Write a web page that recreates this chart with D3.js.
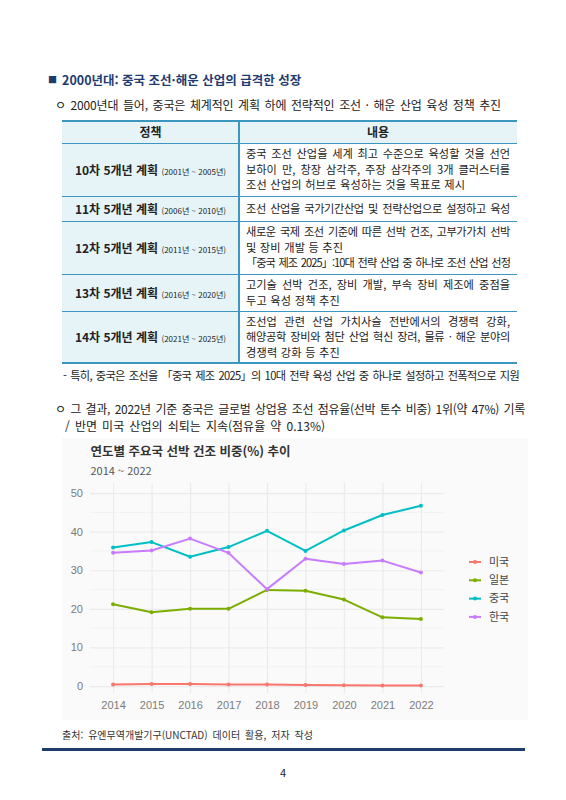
<!DOCTYPE html>
<html lang="ko">
<head>
<meta charset="utf-8">
<title>연도별 주요국 선박 건조 비중</title>
<script src="https://d3js.org/d3.v7.min.js"></script>
<style>
  body{
    margin:0;
    background:#fff;
    font-family:"Noto Sans CJK KR","Noto Sans",sans-serif;
    color:#222;
  }
  #page{position:relative;width:566px;height:800px;overflow:hidden;}
  .ln{position:absolute;white-space:nowrap;}
  .cell{position:absolute;box-sizing:border-box;}
</style>
</head>
<body>
<div id="page"></div>
<script>
// ---- chart data ----
let years = [2014, 2015, 2016, 2017, 2018, 2019, 2020, 2021, 2022]
let countries = ["미국", "일본", "중국", "한국"]
let usShare    = [0.4, 0.5, 0.5, 0.4, 0.4, 0.25, 0.2, 0.15, 0.13]
let japanShare = [21.2, 19.1, 20.0, 20.0, 24.9, 24.7, 22.4, 17.8, 17.4]
let chinaShare = [35.9, 37.3, 33.5, 36.0, 40.2, 35.0, 40.3, 44.3, 46.7]
let koreaShare = [34.5, 35.1, 38.2, 34.5, 25.1, 33.0, 31.6, 32.5, 29.4]
let yTicks = [0, 10, 20, 30, 40, 50]
let yMinor = [5, 15, 25, 35, 45]

// ---- table text ----
let policies = ["10차 5개년 계획", "11차 5개년 계획", "12차 5개년 계획", "13차 5개년 계획", "14차 5개년 계획"]
let periods = ["(2001년 ~ 2005년)", "(2006년 ~ 2010년)", "(2011년 ~ 2015년)", "(2016년 ~ 2020년)", "(2021년 ~ 2025년)"]
let contents = [
  [["중국 조선 산업을 세계 최고 수준으로 육성할 것을 선언", 1], ["보하이 만, 창장 삼각주, 주장 삼각주의 3개 클러스터를", 1], ["조선 산업의 허브로 육성하는 것을 목표로 제시", 0]],
  [["조선 산업을 국가기간산업 및 전략산업으로 설정하고 육성", 1]],
  [["새로운 국제 조선 기준에 따른 선박 건조, 고부가가치 선박", 1], ["및 장비 개발 등 추진", 0], ["「중국 제조 2025」:10대 전략 산업 중 하나로 조선 산업 선정", 1]],
  [["고기술 선박 건조, 장비 개발, 부속 장비 제조에 중점을", 1], ["두고 육성 정책 추진", 0]],
  [["조선업 관련 산업 가치사슬 전반에서의 경쟁력 강화,", 1], ["해양공학 장비와 첨단 산업 혁신 장려, 물류 · 해운 분야의", 1], ["경쟁력 강화 등 추진", 0]]
]

let page = d3.select("#page")

// one line of text; if w is given, spread it to exactly that width
let line = (x, cy, text, opts = {}) => {
  let lh = opts.lh || 16
  let d = page.append("div")
    .attr("class", "ln")
    .style("left", x + "px")
    .style("top", (cy - lh / 2) + "px")
    .style("line-height", lh + "px")
    .style("height", lh + "px")
    .style("font-size", (opts.size || 12) + "px")
    .style("font-weight", opts.bold ? "bold" : "normal")
    .style("color", opts.color || "#222")
    .text(text)
  if (opts.ls) d.style("letter-spacing", opts.ls + "px")
  if (opts.center) d.style("width", opts.center + "px").style("text-align", "center")
  if (opts.w) {
    let natural = d.node().getBoundingClientRect().width
    let spaces = (text.match(/ /g) || []).length
    let extra = opts.w - natural
    let ws = spaces ? extra / spaces : 0
    if (ws < 1.5) {
      // too tight: keep a small word gap, squeeze the letters
      let ls = (extra - 1.5 * spaces) / text.length + (opts.ls || 0)
      d.style("letter-spacing", ls + "px")
      ws = 1.5
    }
    d.style("word-spacing", ws + "px")
  }
  return d
}

// ---- heading and lead text ----
line(48, 80, "■", {size: 9, color: "#1f3b70"})
line(62, 80, "2000년대: 중국 조선·해운 산업의 급격한 성장", {size: 12.5, bold: true, color: "#1f3b70"})
line(55, 105, "ㅇ 2000년대 들어, 중국은 체계적인 계획 하에 전략적인 조선 · 해운 산업 육성 정책 추진", {size: 12, w: 446})

// ---- table ----
let tLeft = 62, tRight = 517, tDiv = 239
let rowEdges = [121, 143, 196, 221, 274, 311, 363]
let blue = "#3b97bf"

page.append("div").attr("class", "cell")
  .style("left", tLeft + "px").style("top", rowEdges[0] + "px")
  .style("width", (tRight - tLeft) + "px").style("height", (rowEdges[1] - rowEdges[0]) + "px")
  .style("background", "#e6f4f8")
page.append("div").attr("class", "cell")
  .style("left", tLeft + "px").style("top", rowEdges[1] + "px")
  .style("width", (tDiv - tLeft) + "px").style("height", (rowEdges[6] - rowEdges[1]) + "px")
  .style("background", "#e6f4f8")

rowEdges.forEach((y, i) => {
  let thick = (i === 0 || i === rowEdges.length - 1) ? 2 : 1
  page.append("div").attr("class", "cell")
    .style("left", tLeft + "px").style("top", (y - thick / 2) + "px")
    .style("width", (tRight - tLeft) + "px").style("height", thick + "px")
    .style("background", blue)
})
page.append("div").attr("class", "cell")
  .style("left", (tDiv - 1) + "px").style("top", rowEdges[0] + "px")
  .style("width", "2px").style("height", (rowEdges[6] - rowEdges[0]) + "px")
  .style("background", blue)

line(tLeft, 132, "정책", {size: 12, bold: true, center: tDiv - tLeft})
line(tDiv, 132, "내용", {size: 12, bold: true, center: tRight - tDiv})

policies.forEach((p, i) => {
  let cy = (rowEdges[i + 1] + rowEdges[i + 2]) / 2
  let d = line(tLeft, cy, "", {size: 12, bold: true, center: tDiv - tLeft})
  d.append("span").text(p + " ")
  d.append("span").style("font-size", "8px").style("font-weight", "normal").text(periods[i])

  let rows = contents[i]
  let lh = 15.6
  let top = cy - (rows.length - 1) * lh / 2
  rows.forEach((r, j) => {
    line(246, top + j * lh, r[0], {size: 11.2, w: r[1] ? 264 : null, lh: lh, ls: r[1] ? 0 : 0.2})
  })
})

// ---- body text after table ----
line(63, 375, "- 특히, 중국은 조선을 「중국 제조 2025」의 10대 전략 육성 산업 중 하나로 설정하고 전폭적으로 지원", {size: 11.2, w: 456})
line(55, 409, "ㅇ 그 결과, 2022년 기준 중국은 글로벌 상업용 조선 점유율(선박 톤수 비중) 1위(약 47%) 기록", {size: 12, w: 470})
line(65, 426, "/ 반면 미국 산업의 쇠퇴는 지속(점유율 약 0.13%)", {size: 12, w: 260})

// ---- chart ----
let cw = 466, ch = 282
let svg = page.append("svg")
  .style("position", "absolute")
  .style("left", "62px").style("top", "438px")
  .attr("width", cw).attr("height", ch)
  .style("font-family", "'Noto Sans CJK KR','Noto Sans',sans-serif")

svg.append("rect").attr("width", cw).attr("height", ch).attr("fill", "#fafafa")

let px0 = 28, px1 = 382, py0 = 45, py1 = 255
let x = d3.scaleLinear().domain([2013.4, 2022.6]).range([px0, px1])
let y = d3.scaleLinear().domain([-1.8, 52.6]).range([py1, py0])

svg.append("g").selectAll("line").data(yMinor).join("line")
  .attr("x1", px0).attr("x2", px1)
  .attr("y1", d => y(d)).attr("y2", d => y(d))
  .attr("stroke", "#f0f0f0").attr("stroke-width", 0.8)

let yAxis = svg.append("g")
  .attr("transform", `translate(${px0},0)`)
  .call(d3.axisLeft(y).tickValues(yTicks).tickSize(-(px1 - px0)).tickPadding(7))
yAxis.select(".domain").remove()
yAxis.selectAll("line").attr("stroke", "#ebebeb").attr("stroke-width", 1.2)
yAxis.selectAll("text").attr("fill", "#7a7a7a").attr("font-size", 11)

let xAxis = svg.append("g")
  .attr("transform", `translate(0,${py1})`)
  .call(d3.axisBottom(x).tickValues(years).tickFormat(d3.format("d")).tickSize(-(py1 - py0)).tickPadding(8))
xAxis.select(".domain").remove()
xAxis.selectAll("line").attr("stroke", "#ebebeb").attr("stroke-width", 1.2)
xAxis.selectAll("text").attr("fill", "#7a7a7a").attr("font-size", 11)

let series = [
  {name: countries[0], values: usShare, color: "#f8766d"},
  {name: countries[1], values: japanShare, color: "#7cae00"},
  {name: countries[2], values: chinaShare, color: "#00bfc4"},
  {name: countries[3], values: koreaShare, color: "#c77cff"}
]

let lineGen = d3.line().x((d, i) => x(years[i])).y(d => y(d))

series.forEach(s => {
  svg.append("path")
    .attr("d", lineGen(s.values))
    .attr("fill", "none")
    .attr("stroke", s.color)
    .attr("stroke-width", 2)
    .attr("stroke-linejoin", "round")
  svg.append("g").selectAll("circle").data(s.values).join("circle")
    .attr("cx", (d, i) => x(years[i]))
    .attr("cy", d => y(d))
    .attr("r", 2)
    .attr("fill", s.color)
})

svg.append("text").attr("x", 28.5).attr("y", 18)
  .attr("font-size", 12.5).attr("font-weight", "bold").attr("fill", "#333")
  .text("연도별 주요국 선박 건조 비중(%) 추이")
svg.append("text").attr("x", 28.5).attr("y", 37)
  .attr("font-size", 11).attr("fill", "#555")
  .text("2014 ~ 2022")

let legend = svg.append("g").selectAll("g").data(series).join("g")
  .attr("transform", (d, i) => `translate(413,${124 + i * 18.3})`)
legend.append("line").attr("x1", -6).attr("x2", 6)
  .attr("stroke", d => d.color).attr("stroke-width", 2)
legend.append("circle").attr("r", 2).attr("fill", d => d.color)
legend.append("text").attr("x", 14).attr("dy", "0.35em")
  .attr("font-size", 11).attr("fill", "#444")
  .text(d => d.name)

// ---- source, rule, page number ----
line(62, 735, "출처: 유엔무역개발기구(UNCTAD) 데이터 활용, 저자 작성", {size: 10, color: "#333", w: 251})
page.append("div").attr("class", "cell")
  .style("left", "42px").style("top", "748px")
  .style("width", "483px").style("height", "3px")
  .style("background", "#1f3d6b")
line(271, 772, "4", {size: 11, center: 24})
</script>
</body>
</html>
